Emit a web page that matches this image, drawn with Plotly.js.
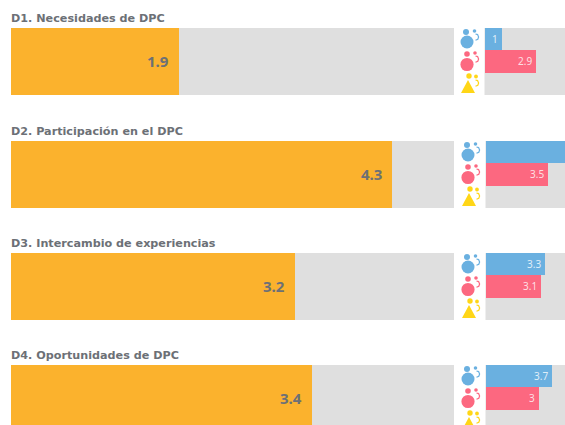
<!DOCTYPE html>
<html><head><meta charset="utf-8">
<script src="https://cdn.plot.ly/plotly-3.0.1.min.js"></script>
<style>html,body{margin:0;padding:0;background:#fff;overflow:hidden}</style>
</head><body><div id="chart" style="width:565px;height:425px"></div>
<script>
const titles = ["D1. Necesidades de DPC","D2. Participación en el DPC","D3. Intercambio de experiencias","D4. Oportunidades de DPC"];
const overall = [1.9,4.3,3.2,3.4];
const men = [1,4.8,3.3,3.7];
const women = [2.9,3.5,3.1,3];
const other = [null,null,null,null];
const panelTops = [28,141,253,365];
const rightStart = [484.5,485.5,485.5,485.5];
const W=565,H=425,PH=67,LEFT=[11,454],UNIT=17.9;
const colors={orange:"#fbb22d",blue:"#6ab0e0",pink:"#fc6880",yellow:"#ffd617",grey:"#dfdfdf",text:"#6c7076"};
const font='"Noto Sans", sans-serif';
const titleFont='"DejaVu Sans", sans-serif';
const px=x=>x/W, py=y=>1-y/H;
const data=[],layout={width:W,height:H,margin:{l:0,r:0,t:0,b:0},paper_bgcolor:"#fff",plot_bgcolor:colors.grey,showlegend:false,bargap:0,annotations:[],shapes:[]};
const hiddenAxis={showgrid:false,zeroline:false,showticklabels:false,ticks:"",showline:false,fixedrange:true};
function circle(cx,cy,r,c){layout.shapes.push({type:"circle",xref:"paper",yref:"paper",x0:px(cx-r),x1:px(cx+r),y0:py(cy+r),y1:py(cy-r),fillcolor:c,line:{width:0}});}
function path(pts,c,fill){const d=pts.map((p,i)=>(i?"L":"M")+px(p[0])+","+py(p[1])).join(" ")+(fill?" Z":"");
 layout.shapes.push(Object.assign({type:"path",xref:"paper",yref:"paper",path:d},fill?{fillcolor:c,line:{width:0}}:{line:{color:c,width:1.2}}));}
function arc(x,y,c){path([[x-0.5,y-3],[x+1.6,y-2.4],[x+2.6,y],[x+1.8,y+2.2],[x-0.5,y+3.2]],c,false);}
titles.forEach((t,i)=>{
  const n=i*2+1,m=i*2+2,top=panelTops[i],bot=Math.min(top+PH,H);
  const vis=(bot-top)/PH;
  const yd=[py(bot),py(top)];
  layout["xaxis"+n]=Object.assign({},hiddenAxis,{domain:[px(LEFT[0]),px(LEFT[1])],range:[0,5],anchor:"y"+n});
  layout["yaxis"+n]=Object.assign({},hiddenAxis,{domain:yd,range:[-0.5+vis,-0.5],anchor:"x"+n});
  layout["xaxis"+m]=Object.assign({},hiddenAxis,{domain:[px(rightStart[i]),1],range:[0,(W-rightStart[i])/UNIT],anchor:"y"+m});
  layout["yaxis"+m]=Object.assign({},hiddenAxis,{domain:yd,range:[-0.5+3*vis,-0.5],anchor:"x"+m,type:"linear"});
  data.push({type:"bar",orientation:"h",x:[overall[i]],y:[0],width:[1],xaxis:"x"+n,yaxis:"y"+n,marker:{color:colors.orange},hoverinfo:"skip"});
  data.push({type:"bar",orientation:"h",x:[men[i],women[i],other[i]],y:[0,1,2],width:[1,1,1],xaxis:"x"+m,yaxis:"y"+m,
    marker:{color:[colors.blue,colors.pink,colors.yellow]},hoverinfo:"skip"});
  layout.annotations.push({xref:"paper",yref:"paper",x:px(11),xshift:-2,y:py(top-10),xanchor:"left",yanchor:"middle",showarrow:false,text:"<b>"+t+"</b>",font:{family:titleFont,size:11.2,color:colors.text}});
  layout.annotations.push({xref:"x"+n,yref:"paper",x:overall[i],y:py(top+33),xanchor:"right",yanchor:"middle",xshift:-8,showarrow:false,text:"<b>"+overall[i]+"</b>",font:{family:font,size:15,color:colors.text}});
  [men[i],women[i]].forEach((v,r)=>{
    const right=rightStart[i]+v*UNIT;
    if(right<W) layout.annotations.push({xref:"x"+m,yref:"paper",x:v,y:py(top+11+22.3*r),xanchor:"right",yanchor:"middle",xshift:-2,showarrow:false,text:String(v),font:{family:font,size:10,color:"rgba(255,255,255,0.8)"}});
  });
  const dx=i?1:0,o=top-28;
  const c1=colors.blue,c2=colors.pink,c3=colors.yellow;
  circle(466+dx,32+o,3,c1);circle(467+dx,42+o,6.5,c1);circle(474.5+dx,31+o,1.8,c1);arc(476+dx,37+o,c1);
  circle(467+dx,54+o,2.8,c2);circle(467+dx,64.5+o,6.6,c2);circle(475+dx,53+o,1.8,c2);arc(476+dx,59+o,c2);
  circle(469+dx,76+o,2.7,c3);path([[461+dx,93+o],[475+dx,93+o],[468+dx,80+o]],c3,true);circle(476+dx,76.5+o,1.9,c3);arc(476+dx,83+o,c3);
});
Plotly.newPlot("chart",data,layout,{displayModeBar:false,staticPlot:true});
</script></body></html>
